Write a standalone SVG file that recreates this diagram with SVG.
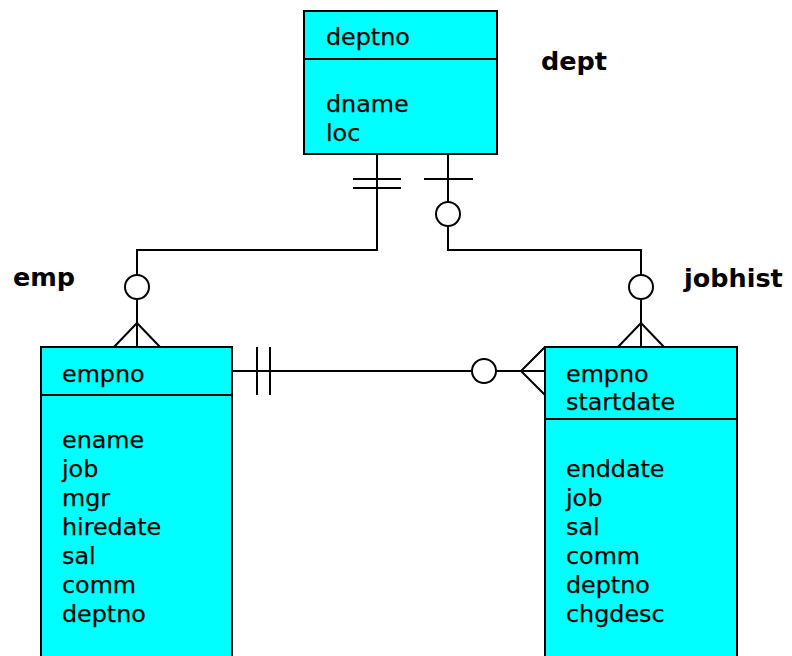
<svg xmlns="http://www.w3.org/2000/svg" width="792" height="656" viewBox="0 0 792 656">
<style>
.box{fill:#00ffff;stroke:#000;stroke-width:2}
.ln{fill:none;stroke:#000;stroke-width:2}
.c{fill:#fff;stroke:#000;stroke-width:2}
.t{font-family:"DejaVu Sans",Verdana,sans-serif;font-size:23.8px;fill:#000;stroke:#000;stroke-width:0.25}
.lb{font-family:"DejaVu Sans",Verdana,sans-serif;font-size:25.5px;font-weight:bold;fill:#000}
</style>
<rect width="792" height="656" fill="#fff"/>
<g id="connectors">
<path class="ln" d="M377,154 V250 H137 V275"/>
<path class="ln" d="M137,299 V347 M114,347 L137,323 L160,347"/>
<path class="ln" d="M353,179 H401 M353,188 H401"/>
<circle class="c" cx="137" cy="287" r="12"/>
<path class="ln" d="M448,154 V202 M448,226 V250 H641 V275"/>
<path class="ln" d="M424,179 H473"/>
<circle class="c" cx="448" cy="214" r="12"/>
<path class="ln" d="M641,299 V347 M618,347 L641,323 L664,347"/>
<circle class="c" cx="641" cy="287" r="12"/>
<path class="ln" d="M232,371 H472 M496,371 H545 M545,347 L521,371 L545,395"/>
<path class="ln" d="M257,347 V395 M270,347 V395"/>
<circle class="c" cx="484" cy="371" r="12"/>
</g>
<g id="dept">
<rect class="box" x="304" y="11" width="193" height="143"/>
<line class="ln" x1="304" y1="59" x2="497" y2="59"/>
<text class="t" x="326" y="45">deptno</text>
<text class="t" x="326" y="112">dname</text>
<text class="t" x="326" y="141">loc</text>
<text class="lb" x="541" y="70">dept</text>
</g>
<g id="emp">
<rect class="box" x="41" y="347" width="191" height="360"/>
<line class="ln" x1="41" y1="395" x2="232" y2="395"/>
<text class="t" x="62" y="382">empno</text>
<text class="t" x="62" y="448">ename</text>
<text class="t" x="62" y="477">job</text>
<text class="t" x="62" y="506">mgr</text>
<text class="t" x="62" y="535">hiredate</text>
<text class="t" x="62" y="564">sal</text>
<text class="t" x="62" y="593">comm</text>
<text class="t" x="62" y="622">deptno</text>
<text class="lb" x="13" y="286">emp</text>
</g>
<g id="jobhist">
<rect class="box" x="545" y="347" width="192" height="360"/>
<line class="ln" x1="545" y1="419" x2="737" y2="419"/>
<text class="t" x="566" y="382">empno</text>
<text class="t" x="566" y="410">startdate</text>
<text class="t" x="566" y="477">enddate</text>
<text class="t" x="566" y="506">job</text>
<text class="t" x="566" y="535">sal</text>
<text class="t" x="566" y="564">comm</text>
<text class="t" x="566" y="593">deptno</text>
<text class="t" x="566" y="622">chgdesc</text>
<text class="lb" x="684" y="287">jobhist</text>
</g>
</svg>
